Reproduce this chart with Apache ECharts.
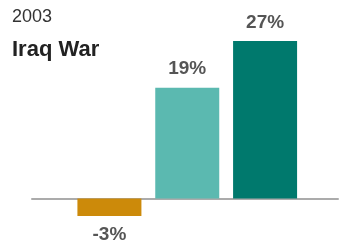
<!DOCTYPE html>
<html><head><meta charset="utf-8">
<script src="https://cdn.jsdelivr.net/npm/echarts@6/dist/echarts.min.js"></script>
<style>html,body{margin:0;padding:0;background:#fff}#c{width:339px;height:246px}</style>
</head><body><div id="c"></div>
<script>
const categories = ['A', 'B', 'C'];
const values = [-3, 19, 27];
const colors = ['#CC8A0A', '#5BB9B0', '#00796D'];
const titleYear = '2003';
const titleName = 'Iraq War';

const chart = echarts.init(document.getElementById('c'));
const gTop = 23.5, gBottom = 18.3;
chart.setOption({
  animation: false,
  title: [
    {text: titleYear, left: 12, top: 8, padding: 0, textStyle: {fontFamily: 'Liberation Sans, Arial', fontSize: 18, fontWeight: 'normal', color: '#333'}},
    {text: titleName, left: 12, top: 39, padding: 0, textStyle: {fontFamily: 'Liberation Sans, Arial', fontSize: 22, fontWeight: 'bold', color: '#222'}}
  ],
  grid: [
    {left: 70.5, right: 35, top: gTop, bottom: gBottom},
    {left: 32, right: 1, top: gTop, bottom: gBottom}
  ],
  xAxis: [
    {type: 'category', gridIndex: 0, data: categories, axisLine: {show: false}, axisTick: {show: false}, axisLabel: {show: false}},
    {type: 'value', gridIndex: 1, min: 0, max: 1, axisLine: {show: true, onZero: true, lineStyle: {color: '#ababab', width: 2}}, axisTick: {show: false}, axisLabel: {show: false}, splitLine: {show: false}}
  ],
  yAxis: [
    {type: 'value', gridIndex: 0, min: -5, max: 30, show: false, splitLine: {show: false}},
    {type: 'value', gridIndex: 1, min: -5, max: 30, show: false, splitLine: {show: false}}
  ],
  series: [{
    type: 'bar',
    xAxisIndex: 0, yAxisIndex: 0,
    barWidth: 64,
    z: 3,
    data: values.map((v, i) => ({
      value: v,
      itemStyle: {color: colors[i]},
      label: {position: v < 0 ? 'bottom' : 'top'}
    })),
    label: {
      show: true, distance: 9,
      formatter: p => p.value + '%',
      fontFamily: 'Liberation Sans, Arial', fontSize: 19, fontWeight: 'bold', color: '#555'
    }
  }]
});
</script></body></html>
